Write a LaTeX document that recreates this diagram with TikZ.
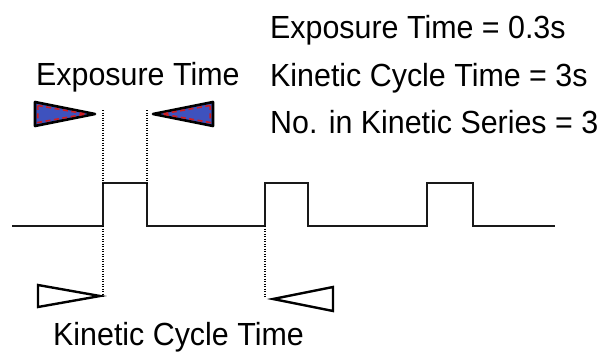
\documentclass[tikz,border=0pt]{standalone}
\usepackage{fontspec}
\setmainfont{Liberation Sans}[FakeStretch=0.95]
\definecolor{trblue}{RGB}{62,82,190}
\definecolor{trred}{RGB}{205,30,35}
\definecolor{wave}{RGB}{25,25,25}
\begin{document}
\begin{tikzpicture}[x=1pt,y=-1pt,
  lbl/.style={inner sep=0pt,anchor=base west,font=\fontsize{32}{38}\selectfont},
  wavel/.style={draw=wave,line width=2.5pt,line join=miter},
  dots/.style={draw=black,line width=1.5pt,dash pattern=on 1.3pt off 1.2pt},
  bluetri/.style={fill=trblue,draw=black,line width=2.6pt,line join=round},
  redin/.style={draw=trred,line width=1.6pt,dash pattern=on 5pt off 3.5pt},
  whitetri/.style={fill=white,draw=black,line width=2.4pt,line join=miter}]
\useasboundingbox (0,0) rectangle (603,354);
% texts
\node[lbl] (et) at (36,85) {Exposure Time};
\node[lbl] (l1) at (270,38) {Exposure Time = 0.3s};
\node[lbl] (l2) at (270,86) {Kinetic Cycle Time = 3s};
\node[lbl] (l3) at (270,133) {No. in Kinetic Series = 3};
\node[lbl] (kct) at (53,345) {Kinetic Cycle Time};
% waveform
\coordinate (s) at (12,226);
\coordinate (a1) at (103,226); \coordinate (a2) at (103,183);
\coordinate (b1) at (147,183); \coordinate (b2) at (147,226);
\coordinate (c1) at (265,226); \coordinate (c2) at (265,183);
\coordinate (d1) at (308,183); \coordinate (d2) at (308,226);
\coordinate (e1) at (427,226); \coordinate (e2) at (427,183);
\coordinate (f1) at (473,183); \coordinate (f2) at (473,226);
\coordinate (g) at (555,226);
\draw[wavel] (s) -- (a1) -- (a2) -- (b1) -- (b2) -- (c1) -- (c2) -- (d1) -- (d2) -- (e1) -- (e2) -- (f1) -- (f2) -- (g);
% dotted markers
\coordinate (t1) at (103,110); \coordinate (t2) at (147,110);
\coordinate (u1) at (103,298); \coordinate (u2) at (265,298);
\draw[dots] (t1) -- (a2);
\draw[dots] (t2) -- (b1);
\draw[dots] (a1) -- (u1);
\draw[dots] (c1) -- (u2);
% blue triangles
\draw[bluetri] (35,102) -- (95,114) -- (35,126) -- cycle;
\draw[redin] (37.8,105.5) -- (86,114) -- (37.8,122.5) -- cycle;
\draw[bluetri] (213,102) -- (153,114) -- (213,126) -- cycle;
\draw[redin] (210.2,105.5) -- (162,114) -- (210.2,122.5) -- cycle;
% white triangles
\draw[whitetri] (38,285) -- (100,296) -- (38,307) -- cycle;
\draw[whitetri] (333,287) -- (273,299) -- (333,311) -- cycle;
\end{tikzpicture}
\end{document}
